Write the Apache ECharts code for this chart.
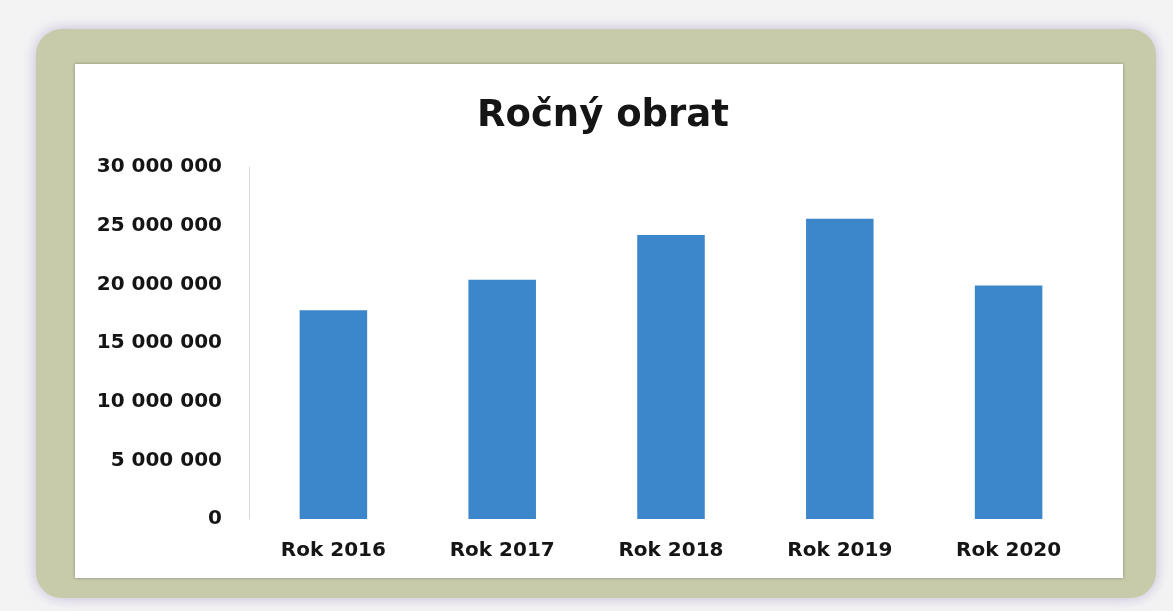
<!DOCTYPE html>
<html>
<head>
<meta charset="utf-8">
<script src="https://cdn.jsdelivr.net/npm/echarts@6/dist/echarts.min.js"></script>
<style>
  html, body { margin: 0; padding: 0; background: #f4f3f4; }
  #chart { width: 1173px; height: 611px; }
</style>
</head>
<body>
<div id="chart"></div>
<script>
// Annual turnover per year
const categories = ['Rok 2016', 'Rok 2017', 'Rok 2018', 'Rok 2019', 'Rok 2020'];
const turnover = [17800000, 20400000, 24200000, 25600000, 19900000];
const yTicks = [0, 5000000, 10000000, 15000000, 20000000, 25000000, 30000000];

const chart = echarts.init(document.getElementById('chart'), null, { renderer: 'canvas' });

function spaced(v) {
  return String(v).replace(/\B(?=(\d{3})+(?!\d))/g, ' ');
}

const font = '"DejaVu Sans", sans-serif';

chart.setOption({
  backgroundColor: '#f4f3f4',
  animation: false,
  title: {
    text: 'Ročný obrat',
    left: 598,
    top: 93,
    textAlign: 'center',
    textStyle: { fontFamily: font, fontSize: 37, fontWeight: 'bold', color: '#151515' }
  },
  graphic: [
    {
      type: 'rect', z: -10, silent: true,
      shape: { x: 36, y: 29, width: 1120, height: 569, r: 26 },
      style: { fill: '#c8cba9', shadowBlur: 14, shadowColor: 'rgba(150,140,190,0.55)' }
    },
    {
      type: 'rect', z: -9, silent: true,
      shape: { x: 75, y: 64, width: 1048, height: 514 },
      style: { fill: '#ffffff', shadowBlur: 3, shadowColor: 'rgba(90,95,80,0.6)' }
    }
  ],
  grid: { left: 249, right: 80, top: 167, bottom: 92 },
  xAxis: {
    type: 'category',
    data: categories,
    axisLine: { show: false },
    axisTick: { show: false },
    axisLabel: { margin: 22, fontFamily: font, fontSize: 20, fontWeight: 'bold', color: '#151515' }
  },
  yAxis: {
    type: 'value',
    min: yTicks[0],
    max: yTicks[yTicks.length - 1],
    interval: yTicks[1] - yTicks[0],
    axisLine: { show: true, lineStyle: { color: '#dadada', width: 1 } },
    axisTick: { show: false },
    splitLine: { show: false },
    axisLabel: {
      margin: 27,
      fontFamily: font, fontSize: 20, fontWeight: 'bold', color: '#151515',
      formatter: spaced
    }
  },
  series: [{
    type: 'bar',
    data: turnover,
    barWidth: '40%',
    itemStyle: { color: '#3c86cb' }
  }]
});
</script>
</body>
</html>
